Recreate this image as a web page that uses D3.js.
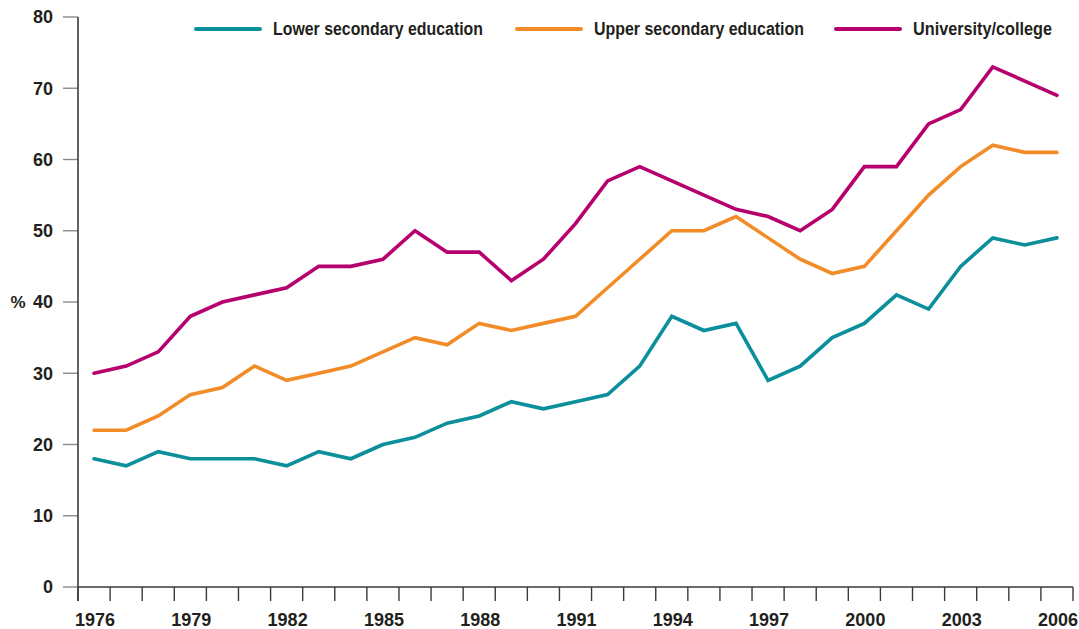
<!DOCTYPE html>
<html>
<head>
<meta charset="utf-8">
<script src="https://cdn.jsdelivr.net/npm/d3@7"></script>
<style>
  html, body { margin: 0; padding: 0; background: #fff; }
  svg { display: block; }
  text { font-family: "Liberation Sans", Arial, sans-serif; font-weight: bold; fill: #231f20; }
</style>
</head>
<body>
<svg id="chart" width="1079" height="629"></svg>
<script>
// Share of each education group, 1976–2006 (%)
const years = d3.range(1976, 2007);
const lowerSecondary = [18, 17, 19, 18, 18, 18, 17, 19, 18, 20, 21, 23, 24, 26, 25, 26, 27, 31, 38, 36, 37, 29, 31, 35, 37, 41, 39, 45, 49, 48, 49];
const upperSecondary = [22, 22, 24, 27, 28, 31, 29, 30, 31, 33, 35, 34, 37, 36, 37, 38, 42, 46, 50, 50, 52, 49, 46, 44, 45, 50, 55, 59, 62, 61, 61];
const university     = [30, 31, 33, 38, 40, 41, 42, 45, 45, 46, 50, 47, 47, 43, 46, 51, 57, 59, 57, 55, 53, 52, 50, 53, 59, 59, 65, 67, 73, 71, 69];
const seriesNames = ["Lower secondary education", "Upper secondary education", "University/college"];
const seriesColors = ["#0b8f9b", "#f28c28", "#b5006e"];
const yTicks = [0, 10, 20, 30, 40, 50, 60, 70, 80];
const xLabelYears = [1976, 1979, 1982, 1985, 1988, 1991, 1994, 1997, 2000, 2003, 2006];

const seriesValues = [lowerSecondary, upperSecondary, university];

const svg = d3.select("#chart");
const margin = { left: 78, right: 6, top: 17, bottom: 42 };
const W = 1079, H = 629;

const x = d3.scaleBand().domain(years).range([margin.left, W - margin.right]);
const xc = yr => x(yr) + x.bandwidth() / 2;
const y = d3.scaleLinear().domain([0, 80]).range([H - margin.bottom, margin.top]);

// Y axis
const yAxis = svg.append("g").attr("transform", `translate(${margin.left},0)`);
yAxis.selectAll("line.tick").data(yTicks).join("line")
  .attr("x1", -15).attr("x2", 0)
  .attr("y1", d => y(d)).attr("y2", d => y(d))
  .attr("stroke", "#8a8a8a").attr("stroke-width", 1.4);
yAxis.selectAll("text").data(yTicks).join("text")
  .attr("x", -25).attr("y", d => y(d)).attr("dy", "0.35em")
  .attr("text-anchor", "end").attr("font-size", 18)
  .text(d => d);
yAxis.append("line")
  .attr("x1", 0).attr("x2", 0)
  .attr("y1", y(80)).attr("y2", y(0) + 14)
  .attr("stroke", "#3a3a3a").attr("stroke-width", 1.6);
svg.append("text").attr("x", 18).attr("y", y(40)).attr("dy", "0.35em")
  .attr("text-anchor", "middle").attr("font-size", 17).text("%");

// X axis: ticks on band edges, labels at band centres
const xAxis = svg.append("g");
const edges = years.map(d => x(d)).concat([x(years[years.length - 1]) + x.bandwidth()]);
xAxis.append("line")
  .attr("x1", margin.left).attr("x2", edges[edges.length - 1])
  .attr("y1", y(0)).attr("y2", y(0))
  .attr("stroke", "#3a3a3a").attr("stroke-width", 1.6);
xAxis.selectAll("line.tick").data(edges).join("line")
  .attr("x1", d => d).attr("x2", d => d)
  .attr("y1", y(0)).attr("y2", y(0) + 14)
  .attr("stroke", "#3a3a3a").attr("stroke-width", 1.4);
xAxis.selectAll("text").data(xLabelYears).join("text")
  .attr("x", d => xc(d) + 1).attr("y", y(0) + 39)
  .attr("text-anchor", "middle").attr("font-size", 18)
  .text(d => d);

// Lines
const line = d3.line().x((d, i) => xc(years[i])).y(d => y(d));
seriesValues.forEach((vals, i) => {
  svg.append("path").datum(vals)
    .attr("d", line)
    .attr("fill", "none")
    .attr("stroke", seriesColors[i])
    .attr("stroke-width", 3.6)
    .attr("stroke-linejoin", "miter")
    .attr("stroke-linecap", "round");
});

// Legend (condensed bold labels)
const legendX = [196, 517, 836];
const legendTextWidth = [210, 210, 139];
const legend = svg.append("g").attr("class", "legend");
seriesNames.forEach((name, i) => {
  const g = legend.append("g").attr("transform", `translate(${legendX[i]},29)`);
  g.append("line").attr("x1", 0).attr("x2", 64).attr("y1", 0).attr("y2", 0)
    .attr("stroke", seriesColors[i]).attr("stroke-width", 4).attr("stroke-linecap", "round");
  g.append("text").attr("x", 77).attr("y", 0).attr("dy", "0.35em")
    .attr("font-size", 18)
    .attr("textLength", legendTextWidth[i])
    .attr("lengthAdjust", "spacingAndGlyphs")
    .text(name);
});
</script>
</body>
</html>
